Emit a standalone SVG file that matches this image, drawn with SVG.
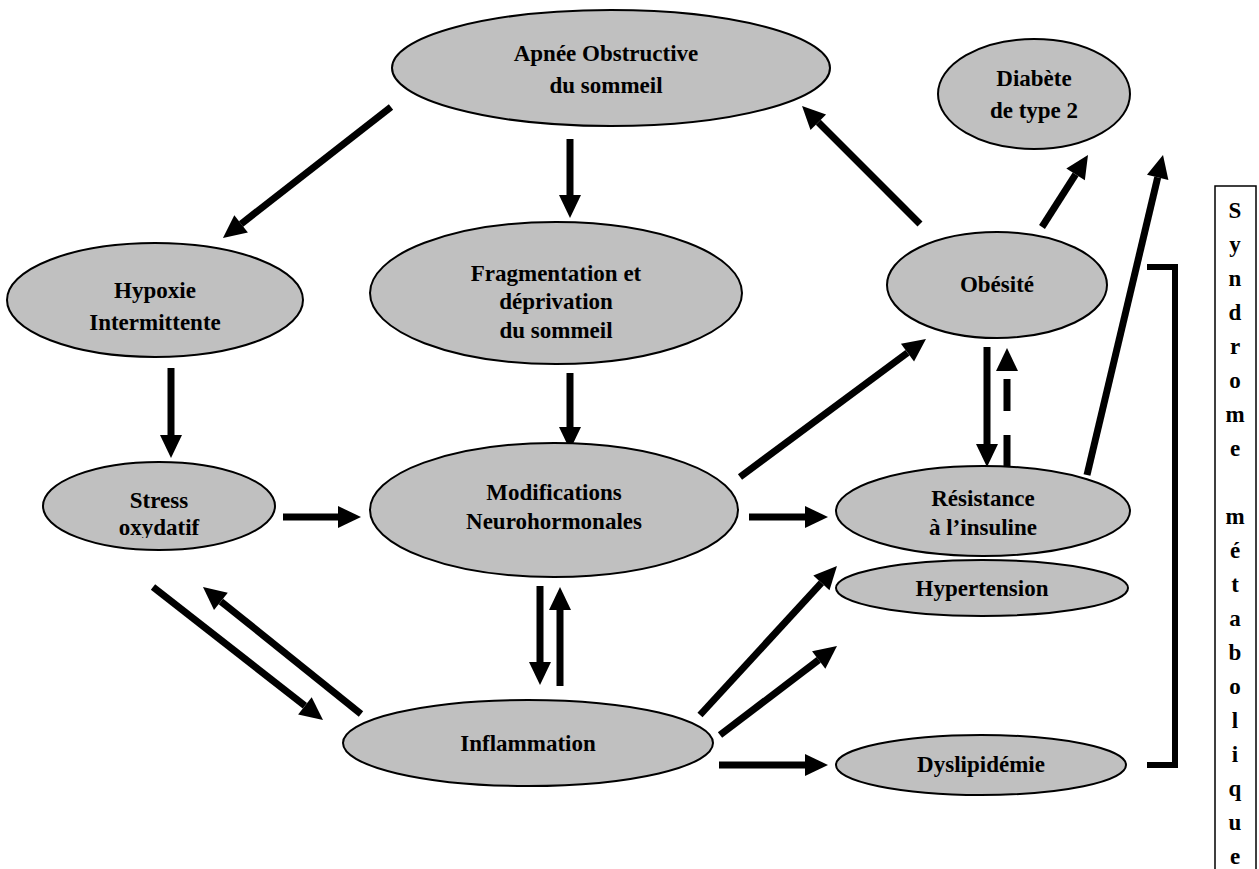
<svg xmlns="http://www.w3.org/2000/svg" width="1259" height="869" viewBox="0 0 1259 869">
<style>
.n{fill:#c0c0c0;stroke:#000;stroke-width:2}
.t{font-family:"Liberation Serif","Times New Roman",serif;font-weight:bold;font-size:23px;fill:#000;text-anchor:middle}
.a{stroke:#000;stroke-width:7;fill:none;marker-end:url(#h)}
</style>
<defs>
<marker id="h" markerUnits="userSpaceOnUse" markerWidth="24" markerHeight="24" refX="0" refY="11" orient="auto" overflow="visible">
<path d="M0,0 L23,11 L0,22 Z" fill="#000"/>
</marker>
<clipPath id="sc"><rect x="0" y="0" width="400" height="538"/></clipPath>
</defs>
<rect width="1259" height="869" fill="#fff"/>
<g id="connectors">
<line class="a" x1="391" y1="107" x2="241.1" y2="223.9"/>
<line class="a" x1="570" y1="139" x2="570" y2="195"/>
<line class="a" x1="920" y1="224" x2="818.3" y2="122.3"/>
<line class="a" x1="1042" y1="227" x2="1075.6" y2="174.4"/>
<line class="a" x1="1087" y1="475" x2="1157.7" y2="177.4"/>
<line class="a" x1="171" y1="368" x2="171" y2="435"/>
<line class="a" x1="570" y1="373" x2="570" y2="427"/>
<line class="a" x1="740" y1="477" x2="907.5" y2="352.7"/>
<line class="a" x1="987" y1="347" x2="987" y2="444"/>
<line stroke="#000" stroke-width="7" stroke-dasharray="32 24" x1="1007" y1="467" x2="1007" y2="371"/>
<path d="M996,371 L1007,348 L1018,371 Z" fill="#000"/>
<line class="a" x1="283" y1="517" x2="338" y2="517"/>
<line class="a" x1="749" y1="517" x2="805" y2="517"/>
<line class="a" x1="540" y1="586" x2="540" y2="662"/>
<line class="a" x1="560" y1="686" x2="560" y2="610"/>
<line class="a" x1="153" y1="587" x2="304.9" y2="705.8"/>
<line class="a" x1="361" y1="714" x2="220.9" y2="601.4"/>
<line class="a" x1="700" y1="715" x2="821.4" y2="582.9"/>
<line class="a" x1="720" y1="735" x2="818.7" y2="659.9"/>
<line class="a" x1="719" y1="765" x2="805" y2="765"/>
<polyline points="1147,267 1175,267 1175,765 1147,765" fill="none" stroke="#000" stroke-width="6"/>
</g>
<g id="apnee"><ellipse class="n" cx="611" cy="68" rx="219" ry="58"/><text class="t" x="606" y="61">Apnée Obstructive</text><text class="t" x="606" y="93">du sommeil</text></g>
<g id="diabete"><ellipse class="n" cx="1034" cy="94" rx="96" ry="55"/><text class="t" x="1034" y="86">Diabète</text><text class="t" x="1034" y="118">de type 2</text></g>
<g id="hypoxie"><ellipse class="n" cx="155" cy="300" rx="148" ry="57"/><text class="t" x="155" y="298">Hypoxie</text><text class="t" x="155" y="330">Intermittente</text></g>
<g id="fragmentation"><ellipse class="n" cx="556" cy="293" rx="186" ry="71"/><text class="t" x="556" y="281">Fragmentation et</text><text class="t" x="556" y="309">déprivation</text><text class="t" x="556" y="338">du sommeil</text></g>
<g id="obesite"><ellipse class="n" cx="997" cy="285" rx="110" ry="53"/><text class="t" x="997" y="292">Obésité</text></g>
<g id="stress"><ellipse class="n" cx="159" cy="506" rx="116" ry="44"/><g clip-path="url(#sc)"><text class="t" x="159" y="508">Stress</text><text class="t" x="159" y="535">oxydatif</text></g></g>
<g id="modifications"><ellipse class="n" cx="554" cy="510" rx="184" ry="67"/><text class="t" x="554" y="500">Modifications</text><text class="t" x="554" y="529">Neurohormonales</text></g>
<g id="resistance"><ellipse class="n" cx="983" cy="511" rx="147" ry="45"/><text class="t" x="983" y="506">Résistance</text><text class="t" x="983" y="535">à l’insuline</text></g>
<g id="hypertension"><ellipse class="n" cx="982" cy="588" rx="146" ry="28"/><text class="t" x="982" y="596">Hypertension</text></g>
<g id="inflammation"><ellipse class="n" cx="528" cy="743" rx="185" ry="43"/><text class="t" x="528" y="751">Inflammation</text></g>
<g id="dyslipidemie"><ellipse class="n" cx="981" cy="765" rx="145" ry="30"/><text class="t" x="981" y="772">Dyslipidémie</text></g>
<g id="syndrome">
<rect x="1215" y="186" width="41" height="700" fill="#fff" stroke="#000" stroke-width="1.5"/>
<text class="t" x="1235">
<tspan x="1235" y="218">S</tspan><tspan x="1235" y="252">y</tspan><tspan x="1235" y="286">n</tspan><tspan x="1235" y="320">d</tspan><tspan x="1235" y="354">r</tspan><tspan x="1235" y="388">o</tspan><tspan x="1235" y="422">m</tspan><tspan x="1235" y="456">e</tspan><tspan x="1235" y="524">m</tspan><tspan x="1235" y="558">é</tspan><tspan x="1235" y="592">t</tspan><tspan x="1235" y="626">a</tspan><tspan x="1235" y="660">b</tspan><tspan x="1235" y="694">o</tspan><tspan x="1235" y="728">l</tspan><tspan x="1235" y="762">i</tspan><tspan x="1235" y="796">q</tspan><tspan x="1235" y="830">u</tspan><tspan x="1235" y="864">e</tspan>
</text>
</g>
</svg>
